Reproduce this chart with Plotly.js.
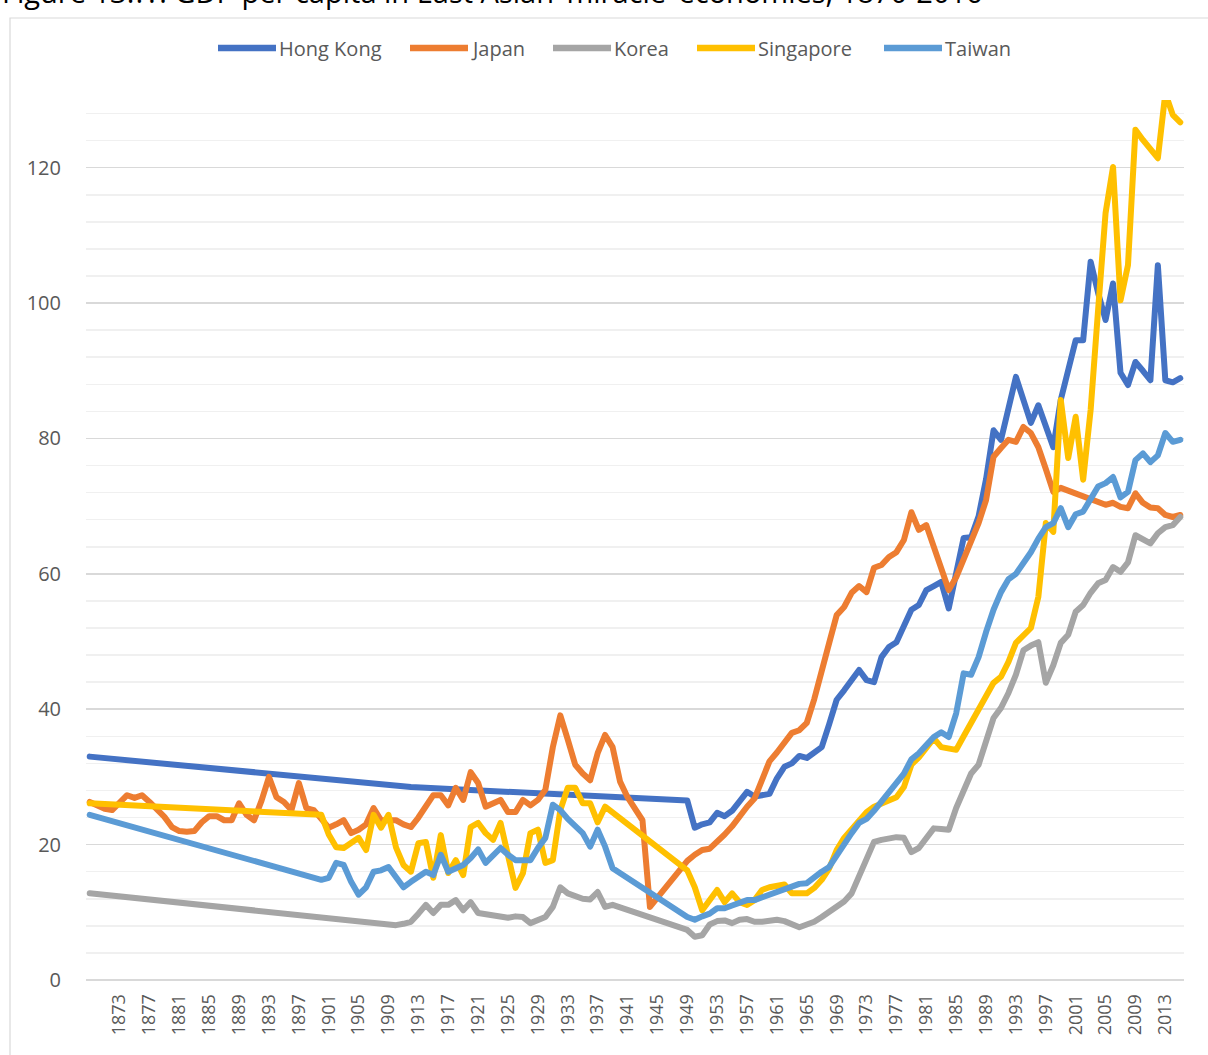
<!DOCTYPE html>
<html>
<head>
<meta charset="utf-8">
<script src="https://cdn.plot.ly/plotly-3.0.1.min.js"></script>
<style>
html,body{margin:0;padding:0;background:#ffffff;}
#chart{width:1208px;height:1055px;}
.scatterlayer .js-line{stroke-linejoin:round !important;stroke-linecap:round !important;}
</style>
</head>
<body>
<div id="chart"></div>
<script>
// Category years (as labelled on the chart's axis)
const firstYear = 1869;
const lastYear = 2015;
const years = [];
for (let y = firstYear; y <= lastYear; y++) years.push(y);

const tickYears = [1873,1877,1881,1885,1889,1893,1897,1901,1905,1909,1913,1917,1921,1925,1929,1933,1937,1941,1945,1949,1953,1957,1961,1965,1969,1973,1977,1981,1985,1989,1993,1997,2001,2005,2009,2013];

const seriesNames = ["Hong Kong","Japan","Korea","Singapore","Taiwan"];
const seriesColors = ["#4472C4","#ED7D31","#A5A5A5","#FFC000","#5B9BD5"];

const hongKong = [
33.0,null,null,null,null,null,null,null,null,null,
null,null,null,null,null,null,null,null,null,null,
null,null,null,null,null,null,null,null,null,null,
null,null,null,null,null,null,null,null,null,null,
null,null,null,28.5,null,null,null,null,null,null,
null,null,null,null,null,null,null,null,null,null,
null,null,null,null,null,null,null,null,null,null,
null,null,null,null,null,null,null,null,null,null,
26.5,22.5,23.0,23.3,24.7,24.2,25.0,26.3,27.8,27.1,
27.2,27.5,29.8,31.5,32.0,33.1,32.8,33.5,34.4,37.8,
41.4,42.8,44.5,45.8,44.3,44.0,47.7,49.2,49.9,52.3,
54.7,55.4,57.6,58.2,58.8,54.9,60.0,65.3,65.4,68.5,
74.0,81.2,79.8,84.5,89.1,85.7,82.3,84.9,82.0,78.7,
85.7,90.5,94.5,94.5,106.1,101.5,97.5,102.9,89.7,87.9,
91.3,90.0,88.6,105.6,88.6,88.3,88.9
];

const japan = [
26.3,25.8,25.3,25.1,26.2,27.3,26.9,27.3,26.3,25.2,
24.1,22.6,22.0,21.9,22.0,23.3,24.2,24.2,23.6,23.6,
26.1,24.4,23.6,26.5,30.0,27.0,26.3,25.1,29.1,25.4,
25.1,23.8,22.5,23.0,23.6,21.7,22.2,23.0,25.4,23.6,
23.6,23.6,23.0,22.6,24.0,25.8,27.3,27.3,25.8,28.4,
26.6,30.7,29.1,25.6,26.0,26.6,24.8,24.8,26.6,25.8,
26.6,28.1,34.4,39.1,35.5,31.8,30.5,29.5,33.5,36.2,
34.4,29.3,27.0,25.3,23.6,10.8,12.2,13.5,15.0,16.5,
17.6,18.5,19.2,19.4,20.4,21.5,22.7,24.2,25.6,26.8,
29.5,32.3,33.6,35.0,36.5,36.9,38.0,41.5,45.3,49.8,
53.9,55.1,57.2,58.2,57.3,60.9,61.3,62.5,63.2,65.0,
69.1,66.5,67.2,63.9,60.6,57.6,59.5,62.0,65.0,67.5,
70.9,77.3,78.6,79.8,79.5,81.7,80.8,78.7,75.5,72.1,
72.7,72.3,71.8,71.3,71.0,70.7,70.2,70.5,69.9,69.7,
71.9,70.5,69.8,69.7,68.7,68.4,68.7
];

const korea = [
12.8,null,null,null,null,null,null,null,null,null,
null,null,null,null,null,null,null,null,null,null,
null,null,null,null,null,null,null,null,null,null,
null,null,null,null,null,null,null,null,null,null,
null,8.1,8.3,8.6,9.8,11.1,9.9,11.1,11.1,11.8,
10.3,11.5,9.9,9.7,9.5,9.3,9.2,9.4,9.3,8.4,
8.9,9.3,10.8,13.7,12.8,12.4,12.0,11.9,13.0,10.8,
11.1,null,null,null,null,null,null,null,null,null,
7.4,6.4,6.6,8.2,8.7,8.8,8.4,8.9,9.0,8.6,
8.6,8.7,8.9,8.7,8.3,7.8,8.2,8.6,9.3,10.1,
11.0,11.6,12.8,15.5,18.0,20.4,20.7,20.9,21.1,21.0,
18.9,19.5,21.1,22.4,22.3,22.2,25.4,28.2,30.5,31.8,
35.0,38.7,40.2,42.4,45.1,48.7,49.4,49.9,43.9,46.5,
49.8,51.0,54.4,55.4,57.2,58.6,59.1,61.0,60.3,61.7,
65.7,65.0,64.5,66.0,66.9,67.2,68.4
];

const singapore = [
26.1,null,null,null,null,null,null,null,null,null,
null,null,null,null,null,null,null,null,null,null,
null,null,null,null,null,null,null,null,null,null,
null,24.4,21.5,19.6,19.5,20.3,21.0,19.2,24.4,22.5,
24.4,19.6,17.0,16.0,20.2,20.4,15.1,21.4,15.8,17.7,
15.5,22.6,23.2,21.7,20.7,23.2,18.5,13.6,15.8,21.7,
22.2,17.3,17.7,25.1,28.4,28.4,26.1,26.1,23.3,25.6,
null,null,null,null,null,null,null,null,null,null,
16.2,13.7,10.3,11.8,13.3,11.5,12.8,11.5,11.1,11.8,
13.3,13.7,13.9,14.1,12.8,12.7,12.8,13.6,14.8,16.5,
19.2,21.0,22.3,23.3,24.8,25.6,26.0,26.5,27.0,28.5,
31.8,32.9,34.3,35.7,34.4,34.1,34.0,36.0,38.0,39.9,
42.0,43.9,44.8,47.0,49.8,51.0,52.0,56.6,67.5,66.2,
85.7,77.1,83.2,73.9,84.2,99.0,113.3,120.1,100.4,105.6,
125.6,124.1,122.7,121.4,131.0,127.8,126.7
];

const taiwan = [
24.4,null,null,null,null,null,null,null,null,null,
null,null,null,null,null,null,null,null,null,null,
null,null,null,null,null,null,null,null,null,null,
null,14.8,15.1,17.3,17.0,14.5,12.6,13.7,16.0,16.2,
16.7,15.0,13.7,14.5,15.2,16.0,15.5,18.5,16.0,16.5,
17.0,18.0,19.3,17.3,18.5,19.5,18.5,17.7,17.7,17.7,
19.5,21.0,25.9,25.1,23.8,22.6,21.7,19.7,22.2,19.7,
16.5,null,null,null,null,null,null,null,null,null,
9.3,8.9,9.4,9.8,10.6,10.6,11.0,11.3,11.8,11.8,
12.2,12.4,12.8,13.3,13.7,14.2,14.3,15.2,16.0,16.7,
18.5,20.0,21.7,23.2,23.8,25.0,26.3,27.6,29.1,30.5,
32.6,33.5,34.7,35.9,36.6,35.9,39.4,45.3,45.1,47.7,
51.4,54.7,57.3,59.2,60.0,61.6,63.2,65.2,66.9,67.5,
69.7,66.9,68.8,69.2,70.9,72.9,73.4,74.3,71.3,72.1,
76.8,77.8,76.5,77.5,80.8,79.5,79.8
];

const seriesValues = [hongKong, japan, korea, singapore, taiwan];

const titleText = "Figure 13.??: GDP per capita in East Asian \u2018miracle\u2019 economies, 1870-2016";

// ---- layout geometry (pixels) ----
const W = 1208, H = 1055;
const M = {l: 86, r: 24, t: 100, b: 75};
const plotW = W - M.l - M.r, plotH = H - M.t - M.b;
const px2x = p => (p - M.l) / plotW;
const px2y = p => (H - M.b - p) / plotH;

const traces = seriesNames.map((name, i) => ({
  type: "scatter",
  mode: "lines",
  name: name,
  x: years,
  y: seriesValues[i],
  connectgaps: true,
  line: {color: seriesColors[i], width: 6},
  hoverinfo: "x+y+name",
  showlegend: false
}));

// custom legend (line samples + labels)
const legendStarts = [218, 410, 553, 697, 884];
const legendY = 48;
const shapes = [];
const annotations = [];
seriesNames.forEach((name, i) => {
  shapes.push({
    type: "line", xref: "paper", yref: "paper",
    x0: px2x(legendStarts[i]), x1: px2x(legendStarts[i] + 58),
    y0: px2y(legendY), y1: px2y(legendY),
    line: {color: seriesColors[i], width: 6.5}
  });
  annotations.push({
    xref: "paper", yref: "paper",
    x: px2x(legendStarts[i] + 59), y: px2y(legendY),
    xanchor: "left", yanchor: "middle",
    text: name, showarrow: false,
    font: {family: "Open Sans, sans-serif", size: 20, color: "#595959"}
  });
});

// chart-area border
shapes.push({
  type: "rect", xref: "paper", yref: "paper",
  x0: px2x(10), x1: px2x(1220), y0: px2y(1070), y1: px2y(18),
  line: {color: "#D9D9D9", width: 1.2}, fillcolor: "rgba(0,0,0,0)", layer: "below"
});

// figure title, cut off at the very top as in the source image
annotations.push({
  xref: "paper", yref: "paper",
  x: px2x(0), y: px2y(-9),
  xanchor: "left", yanchor: "middle",
  text: titleText, showarrow: false,
  font: {family: "Open Sans, sans-serif", size: 29, color: "#000000"}
});

const layout = {
  width: W, height: H,
  margin: M,
  paper_bgcolor: "#ffffff",
  plot_bgcolor: "#ffffff",
  showlegend: false,
  xaxis: {
    type: "linear",
    range: [firstYear - 0.5, lastYear + 0.5],
    tickmode: "array",
    tickvals: tickYears,
    ticktext: tickYears.map(String),
    tickangle: -90,
    ticks: "outside", ticklen: 6, tickcolor: "rgba(0,0,0,0)",
    tickfont: {family: "Open Sans, sans-serif", size: 18, color: "#595959"},
    showgrid: false, zeroline: false, showline: false
  },
  yaxis: {
    range: [0, 130],
    tickmode: "linear", tick0: 0, dtick: 20,
    ticks: "outside", ticklen: 20, tickcolor: "rgba(0,0,0,0)",
    tickfont: {family: "Open Sans, sans-serif", size: 20, color: "#595959"},
    showgrid: true, gridcolor: "#D9D9D9", gridwidth: 1.5,
    minor: {dtick: 4, tick0: 0, showgrid: true, gridcolor: "#F0F0F0", gridwidth: 1.5},
    zeroline: true, zerolinecolor: "#D9D9D9", zerolinewidth: 1.5,
    showline: false
  },
  shapes: shapes,
  annotations: annotations
};

Plotly.newPlot("chart", traces, layout, {displayModeBar: false, staticPlot: true});
</script>
</body>
</html>
